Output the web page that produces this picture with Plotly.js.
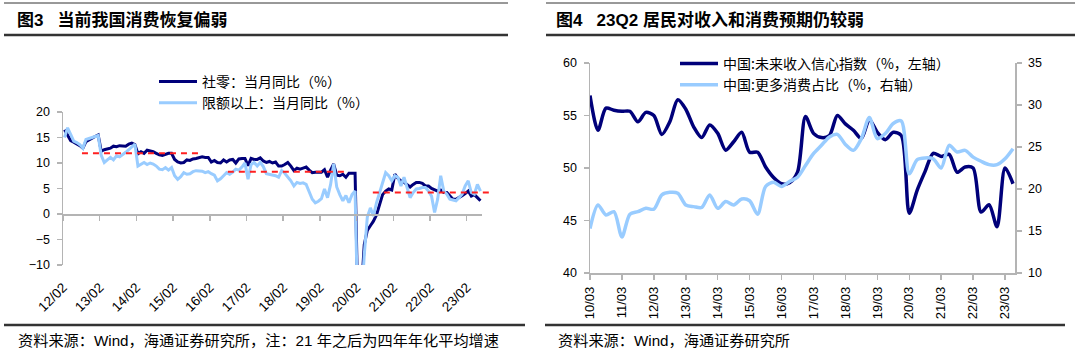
<!DOCTYPE html>
<html>
<head>
<meta charset="utf-8">
<script src="https://cdn.plot.ly/plotly-3.0.1.min.js"></script>
<style>html,body{margin:0;padding:0;background:#fff;}#chart{width:1080px;height:358px;}</style>
</head>
<body>
<div id="chart"></div>
<script>
// ---------- Figure 3: monthly, 2012-02 .. 2023-06 ----------
const leftTickLabels = ["12/02","13/02","14/02","15/02","16/02","17/02","18/02","19/02","20/02","21/02","22/02","23/02"];
const retailYoY = [
  16.5, 15.3, 14.4, 14.1, 13.8, 13.4, 12.9, 14.2, 14.5, 14.9, 15.2, 15.5,
  12.3, 12.6, 12.8, 12.9, 13.3, 13.2, 13.4, 13.3, 13.3, 13.7, 13.9, 13.6,
  11.8, 12.2, 11.9, 12.5, 12.4, 12.2, 11.9, 11.6, 11.5, 11.7, 11.9, 11.9,
  10.7, 10.2, 10.0, 10.1, 10.6, 10.5, 10.8, 10.9, 11.0, 11.2, 11.1, 11.1,
  10.2, 10.5, 10.1, 10.0, 10.6, 10.2, 10.6, 10.7, 10.0, 10.8, 10.9, 10.9,
  9.5, 10.9, 10.7, 10.7, 11.0, 10.4, 10.1, 10.3, 10.0, 10.2, 9.4, 9.4,
  9.7, 10.1, 9.4, 8.5, 9.0, 8.8, 9.0, 9.2, 8.6, 8.1, 8.2, 8.2,
  8.2, 8.7, 7.2, 8.6, 9.8, 7.6, 7.5, 7.8, 7.2, 8.0, 8.0, 8.0,
  -20.5, -15.8, -6.0, -3.2, -2.3, -1.4, -0.2, 1.6, 3.8, 4.5, 4.9, 4.7,
  7.8, 7.0, 6.5, 6.2, 5.8, 5.3, 5.8, 6.2, 6.2, 6.0, 5.5, 5.5,
  5.0, 4.8, 4.5, 4.7, 4.2, 4.2, 3.6, 2.9, 2.9, 3.2, 3.6, 4.0,
  4.5, 3.5, 3.8, 3.2, 2.6
];
const aboveLimitYoY = [
  15.0, 16.9, 15.6, 14.3, 14.0, 13.6, 12.9, 14.6, 14.8, 15.0, 15.2, 15.4,
  11.5, 10.1, 10.6, 11.1, 10.6, 11.4, 11.2, 11.6, 12.1, 12.6, 13.1, 13.7,
  9.4, 9.8, 10.1, 9.7, 10.0, 9.8, 9.4, 8.8, 8.7, 9.1, 8.6, 9.1,
  7.5, 6.8, 7.3, 8.1, 7.8, 7.9, 8.3, 8.5, 8.5, 8.4, 8.1, 8.3,
  7.9, 7.6, 6.5, 6.9, 7.5, 8.1, 7.8, 8.2, 8.8, 8.6, 9.2, 10.0,
  6.8, 9.7, 10.1, 9.4, 10.1, 9.3, 7.9, 7.8, 7.6, 7.5, 7.2, 8.5,
  8.0, 7.3, 6.5, 5.5, 6.2, 6.0, 6.1, 5.8, 4.2, 2.9, 2.2, 2.5,
  3.0, 4.9, 3.2, 5.8, 9.8, 5.3, 3.8, 2.6, 3.6, 2.2, 3.8, 4.5,
  -23.0, -18.0, -8.0, -0.6, 1.2, -0.4, 2.2, 4.2, 6.2, 8.1, 7.5, 6.5,
  7.5, 7.2, 5.5, 7.2, 5.2, 3.2, 4.2, 4.9, 5.0, 5.2, 5.2, 4.5,
  3.5, 0.3, 2.9, 7.5, 4.5, 3.9, 2.9, 2.8, 2.6, 3.2, 3.9, 5.5,
  6.5, 4.2, 3.9, 5.8, 4.5
];
// period averages (red dashed): start index, end index, value
const avgStart = [5.7, 53.4, 100.8];
const avgEnd   = [44.9, 92.3, 139.7];
const avgValue = [11.9, 8.3, 4.2];

// ---------- Figure 4: quarterly, 2010Q1 .. 2023Q2 ----------
const rightTickLabels = ["10/03","11/03","12/03","13/03","14/03","15/03","16/03","17/03","18/03","19/03","20/03","21/03","22/03","23/03"];
const incomeConfidence = [
  56.9, 53.6, 55.7, 55.5, 55.4, 55.4, 54.4, 55.3, 55.0, 53.2,
  54.4, 56.5, 55.6, 53.9, 52.9, 54.1, 53.3, 51.7, 52.5, 53.4,
  51.5, 51.5, 50.1, 49.1, 48.5, 48.6, 49.6, 54.9, 53.3, 52.9,
  53.1, 55.0, 54.2, 53.6, 52.8, 54.6, 53.4, 52.7, 53.4, 53.1,
  45.7, 47.9, 49.7, 51.4, 51.1, 51.3, 49.6, 50.1, 50.0, 45.8,
  46.5, 44.4, 50.0, 48.5
];
const moreConsumption = [
  15.3, 18.1, 16.9, 17.3, 14.3, 17.0, 17.3, 17.7, 17.6, 19.3,
  19.6, 19.5, 18.1, 17.9, 17.8, 19.3, 17.7, 18.5, 18.1, 18.8,
  18.6, 17.0, 20.3, 20.8, 20.3, 20.9, 21.4, 22.8, 24.2, 25.2,
  26.2, 26.5, 25.3, 24.6, 26.0, 28.5, 26.0, 26.6, 27.8, 28.1,
  21.8, 23.5, 23.7, 23.6, 22.5, 25.2, 24.4, 24.6, 23.8, 23.3,
  22.9, 22.9, 23.6, 24.8
];

const W = 1080, H = 358;
const FONT = "Liberation Sans, Arial, Noto Sans CJK SC, sans-serif";
const CJK = "Noto Sans CJK SC, Liberation Sans, sans-serif";
const DARK = "#00007A", LIGHT = "#99CCFF", AXIS = "#B4B4B4";
const px = v => v / W, py = v => 1 - v / H;
const NB = '\u00A0\u00A0\u00A0';

const mIdx = retailYoY.map((_, i) => i);
const qIdx = incomeConfidence.map((_, i) => i);
const leftTickVals = leftTickLabels.map((_, i) => i * 12 - 0.5);
const rightTickVals = rightTickLabels.map((_, i) => i * 4);
const catW = (482 - 63) / retailYoY.length;

const traces = [
  {x: mIdx, y: retailYoY, xaxis: 'x', yaxis: 'y', type: 'scatter', mode: 'lines',
   name: '社零：当月同比（%）', line: {color: DARK, width: 3}, legend: 'legend'},
  {x: mIdx, y: aboveLimitYoY, xaxis: 'x3', yaxis: 'y', type: 'scatter', mode: 'lines',
   name: '限额以上：当月同比（%）', line: {color: LIGHT, width: 3}, legend: 'legend'}
];
avgValue.forEach((v, k) => traces.push({
  x: [avgStart[k], avgEnd[k]], y: [v, v], xaxis: 'x4', yaxis: 'y4', type: 'scatter', mode: 'lines',
  showlegend: false, hoverinfo: 'skip', line: {color: '#FF2020', width: 2, dash: '6px,5px'}
}));
traces.push(
  {x: qIdx, y: incomeConfidence, xaxis: 'x2', yaxis: 'y2', type: 'scatter', mode: 'lines',
   name: '中国:未来收入信心指数（%，左轴）', line: {color: DARK, width: 3.5, shape: 'spline', smoothing: 0.8}, legend: 'legend2'},
  {x: qIdx, y: moreConsumption, xaxis: 'x2', yaxis: 'y3', type: 'scatter', mode: 'lines',
   name: '中国:更多消费占比（%，右轴）', line: {color: LIGHT, width: 3.5, shape: 'spline', smoothing: 0.8}, legend: 'legend2'}
);

const lDom = [px(63), px(482)];
const lYDom = [py(265), py(112)];
const rDom = [px(590), px(1015)];
const rYDom = [py(273), py(63)];
const zeroPos = lYDom[0] + (lYDom[1] - lYDom[0]) / 3;

const tickFont = {family: FONT, size: 12.5, color: '#000'};
const layout = {
  width: W, height: H,
  margin: {l: 0, r: 0, t: 0, b: 0, pad: 0},
  paper_bgcolor: '#fff', plot_bgcolor: 'rgba(0,0,0,0)',
  showlegend: true,
  font: {family: FONT, color: '#000'},
  xaxis: {domain: lDom, range: [-0.5, retailYoY.length - 0.5], anchor: 'free', position: zeroPos,
    showline: true, linecolor: AXIS, linewidth: 1.5, ticks: 'outside', ticklen: 5, tickcolor: AXIS, tickwidth: 1.5,
    tickmode: 'array', tickvals: leftTickVals, showticklabels: false, showgrid: false, zeroline: false, fixedrange: true},
  xaxis3: {overlaying: 'x', anchor: 'y', range: [-0.5, retailYoY.length - 0.5],
    tickmode: 'array', tickvals: leftTickVals, ticktext: leftTickLabels, tickangle: -45, ticks: '',
    ticklabelstandoff: 11, showline: false, showgrid: false, zeroline: false, tickfont: {family: FONT, size: 13.5, color: '#000'}},
  yaxis: {domain: lYDom, range: [-10, 20], anchor: 'x', dtick: 5, tick0: 0,
    showline: true, linecolor: AXIS, linewidth: 1.5, ticks: 'outside', ticklen: 5, tickcolor: AXIS, tickwidth: 1.5,
    showgrid: false, zeroline: false, tickfont: tickFont, ticklabelstandoff: 4},
  xaxis4: {domain: [px(63), px(496)], range: [-0.5, -0.5 + (496 - 63) / catW], anchor: 'y4', visible: false},
  yaxis4: {domain: lYDom, range: [-10, 20], anchor: 'x4', visible: false},
  xaxis2: {domain: rDom, range: [0, 53.25], anchor: 'y2',
    showline: true, linecolor: AXIS, linewidth: 1.5, ticks: 'outside', ticklen: 5, tickcolor: AXIS, tickwidth: 1.5,
    tickmode: 'array', tickvals: rightTickVals, ticktext: rightTickLabels, tickangle: -90,
    showgrid: false, zeroline: false, tickfont: {family: FONT, size: 13, color: '#000'}, ticklabelstandoff: 2},
  yaxis2: {domain: rYDom, range: [40, 60], anchor: 'x2', dtick: 5,
    showline: true, linecolor: AXIS, linewidth: 1.5, ticks: 'outside', ticklen: 5, tickcolor: AXIS, tickwidth: 1.5,
    showgrid: false, zeroline: false, tickfont: tickFont, ticklabelstandoff: 4},
  yaxis3: {overlaying: 'y2', side: 'right', anchor: 'x2', range: [10, 35], dtick: 5,
    showline: true, linecolor: AXIS, linewidth: 1.5, ticks: 'outside', ticklen: 5, tickcolor: AXIS, tickwidth: 1.5,
    showgrid: false, zeroline: false, tickfont: tickFont, ticklabelstandoff: 4},
  legend: {x: px(154), y: py(66), xanchor: 'left', yanchor: 'top', bgcolor: 'rgba(0,0,0,0)',
    font: {family: CJK, size: 14, color: '#000'}, itemwidth: 38, tracegroupgap: 0},
  legend2: {x: px(675), y: py(48), xanchor: 'left', yanchor: 'top', bgcolor: 'rgba(0,0,0,0)',
    font: {family: CJK, size: 14, color: '#000'}, itemwidth: 38, tracegroupgap: 0},
  annotations: [
    {text: '<b>图3' + NB + '当前我国消费恢复偏弱</b>', xref: 'paper', yref: 'paper', x: px(15), y: py(20),
     xanchor: 'left', yanchor: 'middle', showarrow: false, font: {family: FONT, size: 17, color: '#000'}},
    {text: '<b>图4' + NB + '23Q2 居民对收入和消费预期仍较弱</b>', xref: 'paper', yref: 'paper', x: px(554), y: py(20),
     xanchor: 'left', yanchor: 'middle', showarrow: false, font: {family: FONT, size: 17, color: '#000'}},
    {text: '资料来源：Wind，海通证券研究所，注：21 年之后为四年年化平均增速', xref: 'paper', yref: 'paper', x: px(16), y: py(340),
     xanchor: 'left', yanchor: 'middle', showarrow: false, font: {family: FONT, size: 15.2, color: '#000'}},
    {text: '资料来源：Wind，海通证券研究所', xref: 'paper', yref: 'paper', x: px(556), y: py(340),
     xanchor: 'left', yanchor: 'middle', showarrow: false, font: {family: FONT, size: 15.2, color: '#000'}}
  ],
  shapes: [
    {type: 'line', xref: 'paper', yref: 'paper', x0: px(4), x1: px(508), y0: py(3), y1: py(3), line: {color: '#333', width: 1}},
    {type: 'line', xref: 'paper', yref: 'paper', x0: px(4), x1: px(508), y0: py(35), y1: py(35), line: {color: '#333', width: 2.5}},
    {type: 'line', xref: 'paper', yref: 'paper', x0: px(4), x1: px(525), y0: py(325), y1: py(325), line: {color: '#333', width: 2.5}},
    {type: 'line', xref: 'paper', yref: 'paper', x0: px(546), x1: px(1075), y0: py(3), y1: py(3), line: {color: '#333', width: 1}},
    {type: 'line', xref: 'paper', yref: 'paper', x0: px(546), x1: px(1075), y0: py(35), y1: py(35), line: {color: '#333', width: 2.5}},
    {type: 'line', xref: 'paper', yref: 'paper', x0: px(545), x1: px(1065), y0: py(325), y1: py(325), line: {color: '#333', width: 2.5}}
  ]
};

Plotly.newPlot('chart', traces, layout, {staticPlot: true, displayModeBar: false});
</script>
</body>
</html>
